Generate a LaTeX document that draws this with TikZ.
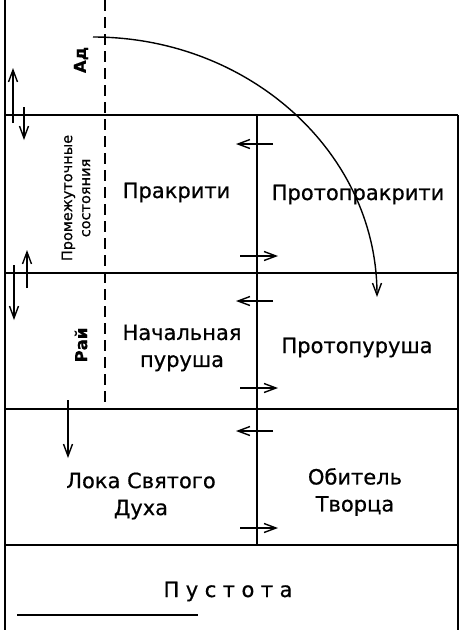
\documentclass[tikz,border=0pt]{standalone}
\usepackage{fontspec}
\setmainfont[FakeBold=0.6]{DejaVu Sans}
\usetikzlibrary{arrows.meta}
\begin{document}
\begin{tikzpicture}[x=1pt,y=-1pt,
  frame/.style={line width=2pt},
  dashline/.style={line width=2pt,dash pattern=on 11pt off 6pt},
  conn/.style={line width=1.4pt,-{Straight Barb[length=12pt,width=9pt,line width=1.4pt]}},
  lbl/.style={font=\fontsize{21}{27}\selectfont, align=center, inner sep=0pt},
  side/.style={font=\bfseries\fontsize{16.5}{19}\selectfont, rotate=90, inner sep=0pt},
  small/.style={font=\fontsize{14.5}{18}\selectfont, rotate=90, align=center, inner sep=0pt}]
\useasboundingbox (0,0) rectangle (468,630);
% frame coordinates
\coordinate (L0) at (5,0);      \coordinate (L1) at (5,630);
\coordinate (R0) at (458,115);  \coordinate (R1) at (458,630);
\coordinate (a1) at (5,115);    \coordinate (a2) at (458,115);
\coordinate (b1) at (5,273);    \coordinate (b2) at (458,273);
\coordinate (c1) at (5,409);    \coordinate (c2) at (458,409);
\coordinate (d1) at (5,545);    \coordinate (d2) at (458,545);
\coordinate (m0) at (257,115);  \coordinate (m1) at (257,545);
\coordinate (k0) at (105,0);    \coordinate (k1) at (105,409);
\coordinate (u0) at (17,615);   \coordinate (u1) at (198,615);
\draw[frame] (L0) -- (L1);
\draw[frame] (R0) -- (R1);
\draw[frame] (a1) -- (a2);
\draw[frame] (b1) -- (b2);
\draw[frame] (c1) -- (c2);
\draw[frame] (d1) -- (d2);
\draw[frame] (m0) -- (m1);
\draw[dashline] (k0) -- (k1);
\draw[frame] (u0) -- (u1);
% labels
\node[lbl, anchor=base] (pr) at (176.5,198) {Пракрити};
\node[lbl, anchor=base] (ppr) at (358,200) {Протопракрити};
\node[lbl] (np) at (182,348) {Начальная\\пуруша};
\node[lbl, anchor=base] (ppu) at (357,353) {Протопуруша};
\node[lbl] (lsd) at (141,496) {Лока Святого\\Духа};
\node[lbl] (ot) at (355,492) {Обитель\\Творца};
\node[lbl, anchor=base] (pu) at (228,597) {П\kern6.5pt у\kern6.5pt с\kern6.5pt т\kern6.5pt о\kern6.5pt т\kern6.5pt а};
\node[side] (ad) at (81,60) {Ад};
\node[side] (rai) at (81,345) {Рай};
\node[small] (ps) at (76,198) {Промежуточные\\состояния};
% arrows on the left
\coordinate (p1s) at (13,123); \coordinate (p1e) at (13,68);
\coordinate (p2s) at (24,107); \coordinate (p2e) at (24,140);
\coordinate (p3s) at (27,288); \coordinate (p3e) at (27,250);
\coordinate (p4s) at (14,265); \coordinate (p4e) at (14,320);
\coordinate (p5s) at (68,400); \coordinate (p5e) at (68,458);
\draw[conn] (p1s) -- (p1e);
\draw[conn] (p2s) -- (p2e);
\draw[conn] (p3s) -- (p3e);
\draw[conn] (p4s) -- (p4e);
\draw[conn] (p5s) -- (p5e);
% arrows across the middle line
\foreach \y [count=\i] in {144,301,431} {
  \coordinate (ls\i) at (273,\y); \coordinate (le\i) at (236,\y);
  \draw[conn] (ls\i) -- (le\i);
}
\foreach \y [count=\i] in {256,388,528} {
  \coordinate (rs\i) at (240,\y); \coordinate (re\i) at (278,\y);
  \draw[conn] (rs\i) -- (re\i);
}
% big curve
\coordinate (cs) at (93,37);
\draw[conn] (cs) arc[start angle=-90, end angle=0, x radius=284, y radius=260] coordinate (ce);
\end{tikzpicture}
\end{document}
